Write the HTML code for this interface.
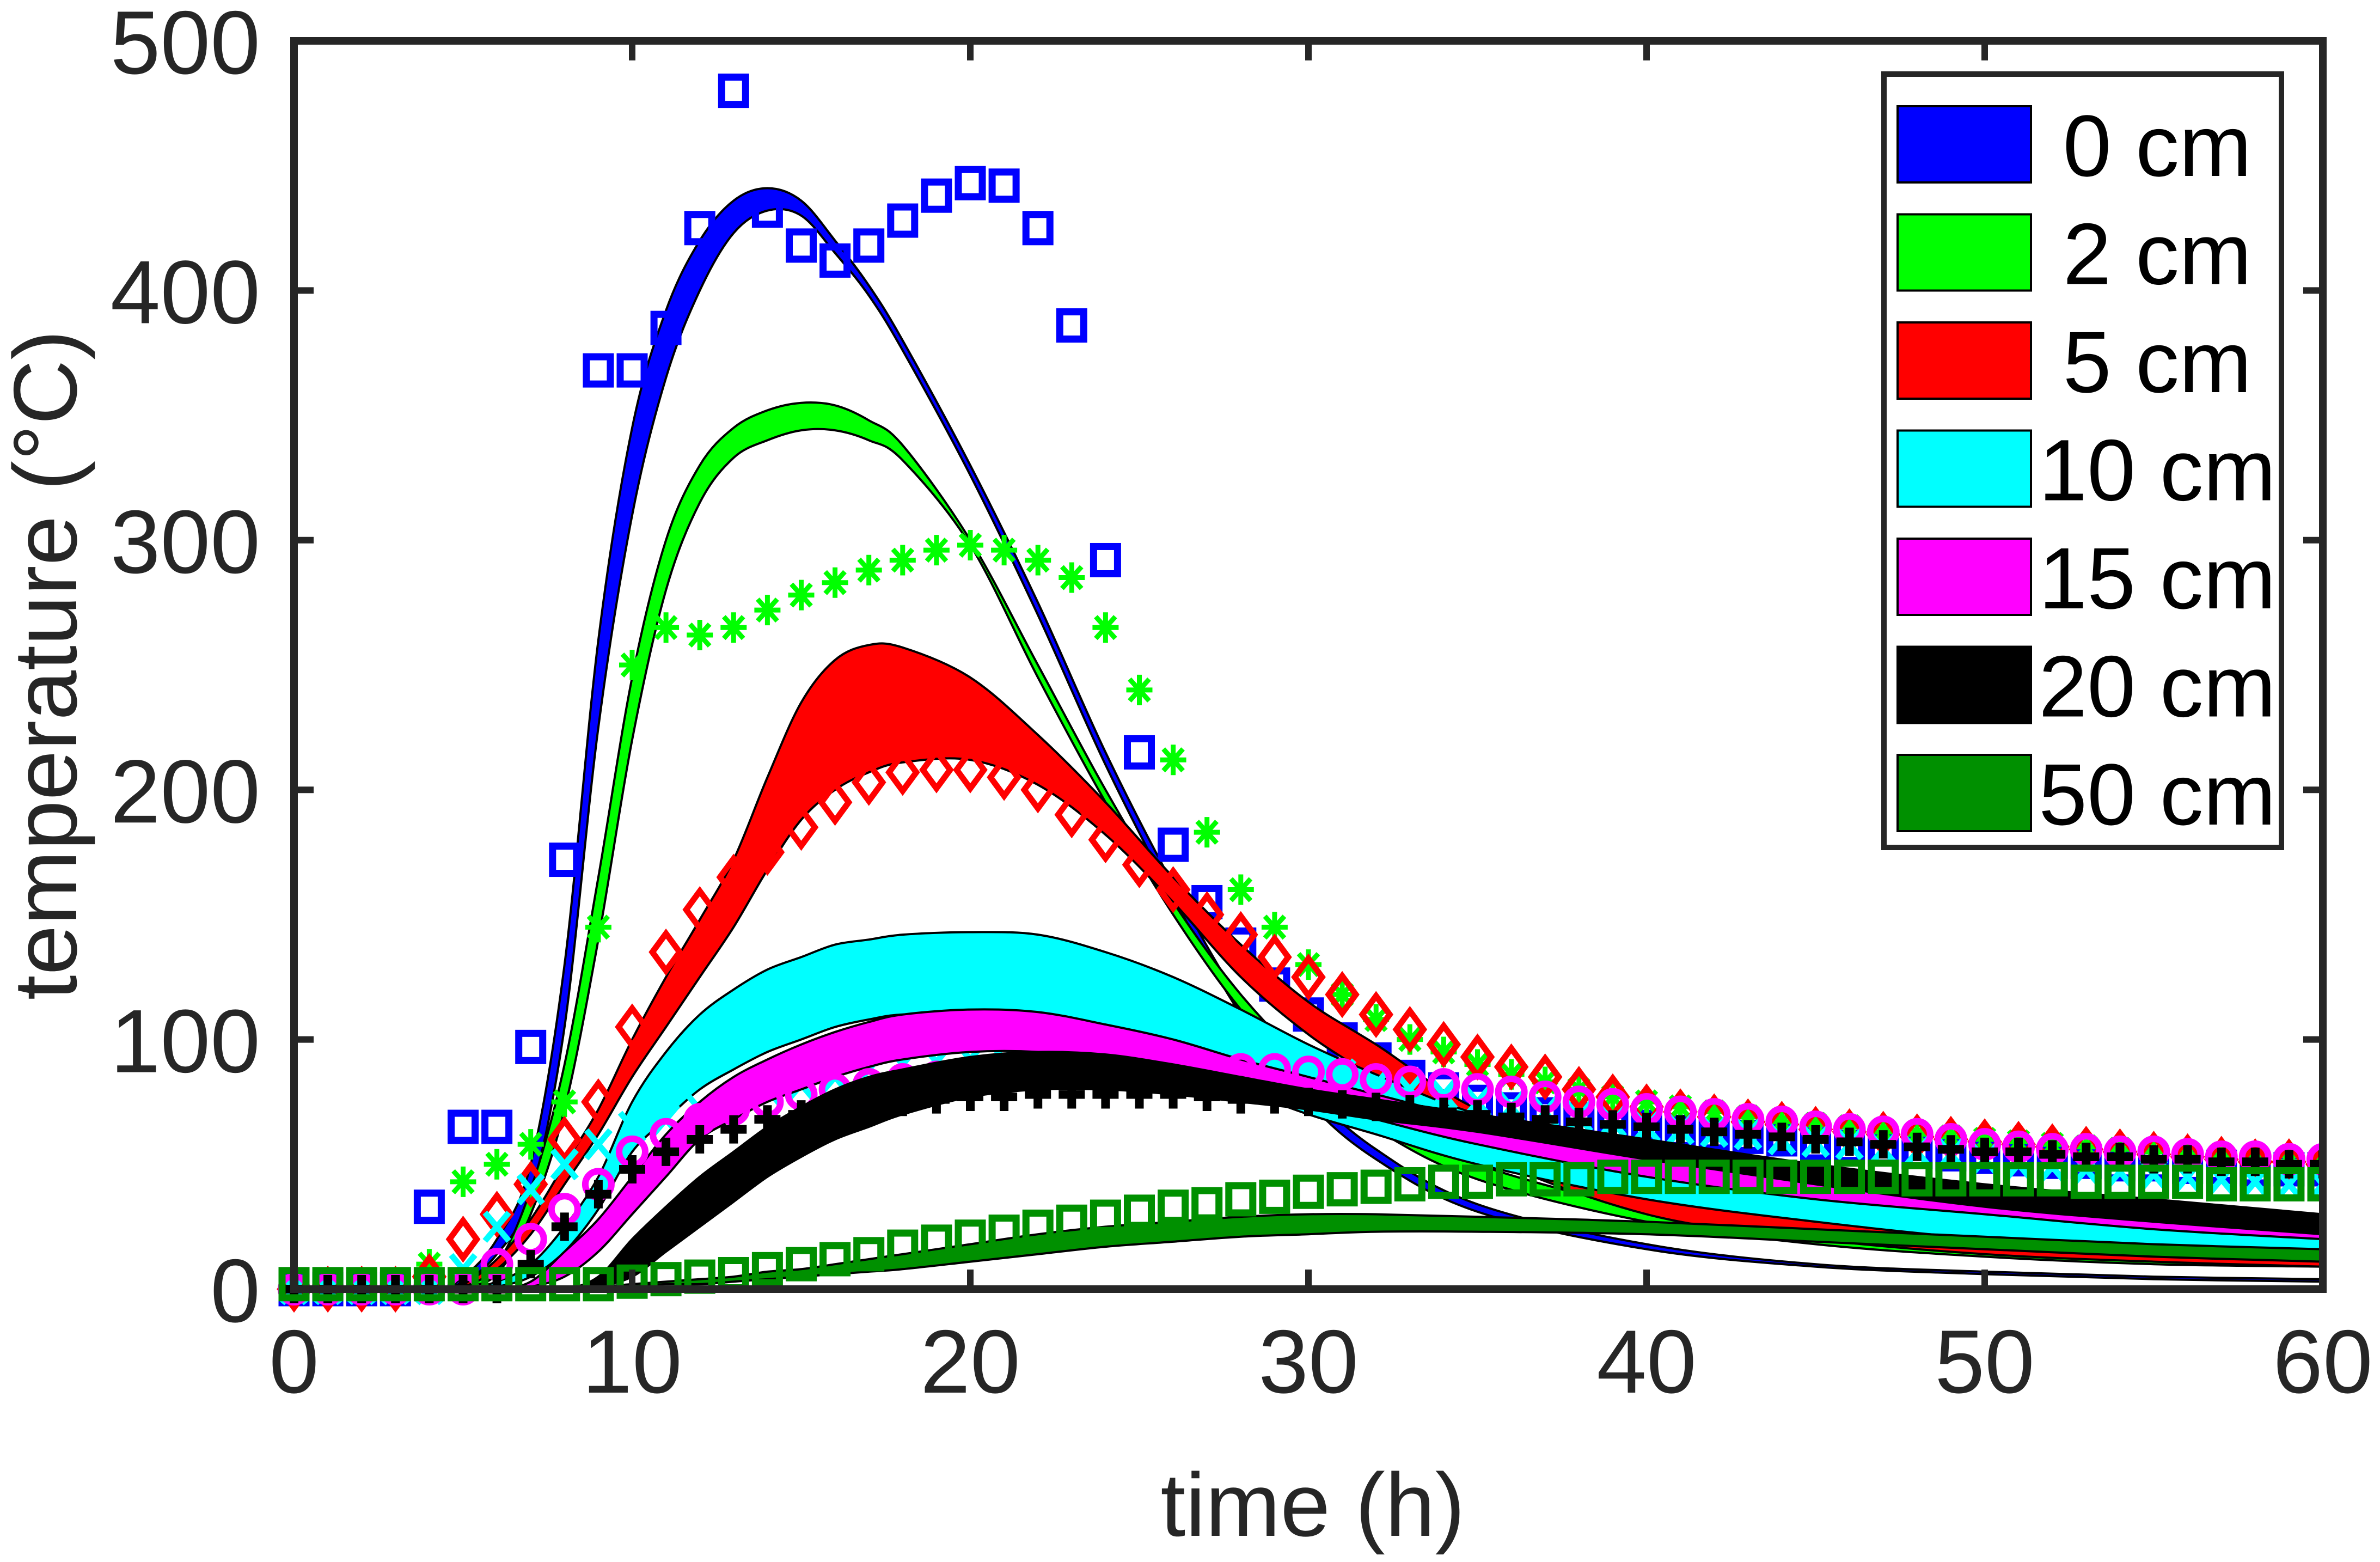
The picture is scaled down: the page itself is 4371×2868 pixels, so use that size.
<!DOCTYPE html>
<html><head><meta charset="utf-8"><style>
html,body{margin:0;padding:0;background:#fff;}
svg{display:block;font-family:"Liberation Sans",sans-serif;}
</style></head><body>
<svg id="chart" width="4371" height="2868" viewBox="0 0 4371 2868" xmlns="http://www.w3.org/2000/svg">
<rect x="0" y="0" width="4371" height="2868" fill="#fff"/>
<g id="plot"></g>
<g id="axes"></g>
<g id="legend"></g>
<text x="2411" y="2820" font-size="165" fill="#262626" text-anchor="middle">time (h)</text>
<text transform="translate(140,1221) rotate(-90)" font-size="165" fill="#262626" text-anchor="middle">temperature (°C)</text>
</svg>
<script>
const xTicks=[0,10,20,30,40,50,60];
const yTicks=[0,100,200,300,400,500];
const seriesNames=["0 cm","2 cm","5 cm","10 cm","15 cm","20 cm","50 cm"];
const bandT=[0,4,5,6,7,8,9,10,11,12,13,14,15,16,17,18,20,22,24,26,28,30,32,35,40,45,50,55,60];
const upper0=[0,0,5,20,50,130,260,345,392,420,436,441,436,420,402,380,330,275,215,162,115,80,56,34,18,10,7,5,4];
const lower0=[0,0,3,14,38,105,225,310,365,400,423,432,430,415,398,376,326,270,210,157,110,75,52,31,16,9,6,4,3];
const upper2=[0,0,2,10,40,90,165,245,300,330,345,352,355,354,348,338,300,250,200,155,118,90,70,50,32,22,16,13,11];
const lower2=[0,0,1,6,30,72,140,220,280,315,333,340,344,344,340,332,298,245,195,150,112,84,64,44,27,18,13,10,9];
const upper5=[0,0,2,12,28,50,72,100,125,148,172,205,235,252,258,257,245,222,195,165,138,115,98,72,45,32,23,18,14];
const lower5=[0,0,1,8,22,42,62,85,105,125,145,168,188,200,207,211,212,202,182,155,125,102,84,55,30,20,14,11,9];
const upper10=[0,0,0,3,10,25,45,75,95,110,120,128,133,138,140,142,143,142,135,125,112,98,86,70,52,40,32,26,22];
const lower10=[0,0,0,1,5,15,32,55,68,80,88,95,100,105,108,110,110,107,100,90,80,70,62,50,36,27,20,16,13];
const upper15=[0,0,0,0,3,15,28,45,62,75,85,92,98,103,107,110,112,111,106,100,92,85,78,68,55,45,38,32,28];
const lower15=[0,0,0,0,1,5,15,30,45,60,68,75,80,85,89,92,95,95,92,88,82,75,68,58,45,36,30,24,20];
const upper20=[0,0,0,0,0,0,5,20,33,45,55,65,73,80,85,88,93,95,94,90,85,80,76,70,60,50,42,36,30];
const lower20=[0,0,0,0,0,0,1,5,15,25,35,45,53,60,65,70,77,80,80,78,75,72,68,63,52,42,33,27,22];
const upper50=[0,0,0,0,0,1,1,2,3,4,5,7,8,10,12,14,18,22,25,27,29,30,30,29,27,24,21,18,16];
const lower50=[0,0,0,0,0,0,0,1,2,2,3,4,5,6,7,8,11,14,17,19,21,22,23,23,22,19,16,13,11];
const markT=[0,1,2,3,4,5,6,7,8,9,10,11,12,13,14,15,16,17,18,19,20,21,22,23,24,25,26,27,28,29,30,31,32,33,34,35,36,37,38,39,40,41,42,43,44,45,46,47,48,49,50,51,52,53,54,55,56,57,58,59,60];
const meas0=[0,0,0,0,33,65,65,97,172,368,368,385,425,480,432,418,412,418,428,438,443,442,425,386,292,215,178,155,138,122,110,100,92,85,80,75,72,70,68,66,65,63,62,61,60,58,57,56,55,54,53,52,51,51,50,50,49,49,48,48,48];
const meas2=[0,0,0,0,10,43,50,58,75,145,250,265,262,265,272,278,283,288,292,296,298,296,292,285,265,240,212,183,160,145,130,118,108,100,95,90,86,83,80,77,75,73,71,69,67,66,65,63,62,61,60,59,58,57,56,55,54,53,52,51,50];
const meas5=[0,0,0,0,5,20,30,42,60,75,105,135,152,165,175,185,195,203,207,208,208,205,200,190,180,170,160,150,142,133,125,118,110,104,98,93,89,85,80,77,73,71,69,67,66,64,63,62,61,60,59,58,57,56,55,54,53,52,51,51,50];
const meas10=[0,0,0,0,0,8,25,40,50,58,65,68,72,76,80,82,85,88,90,91,92,92,93,94,95,95,95,94,93,91,88,86,82,80,78,75,73,71,69,67,65,64,63,62,60,59,58,56,55,54,52,50,49,48,47,46,45,44,43,42,42];
const meas15=[0,0,0,0,0,0,10,20,32,42,55,62,68,72,75,78,80,82,84,85,86,87,88,88,88,88,88,88,88,88,87,86,84,83,82,80,79,77,75,74,72,71,70,68,67,65,64,63,62,60,58,57,56,56,55,55,54,53,53,52,52];
const meas20=[0,0,0,0,0,0,0,10,25,38,48,55,60,64,68,70,72,74,75,76,77,77,78,78,78,78,78,77,76,76,75,74,73,72,71,70,69,68,67,66,65,64,63,62,61,60,59,58,57,56,55,55,54,53,53,52,52,51,51,50,50];
const meas50=[2,2,2,2,2,2,2,2,2,2,3,4,5,6,8,10,12,14,17,19,21,23,25,27,29,31,33,34,36,37,39,40,41,42,43,43,44,44,44,45,45,45,45,45,45,45,45,45,44,44,44,44,44,43,43,43,43,42,42,42,42];

const L=540,R=4266,T=75,B=2367;
const xS=t=>L+(t-0)/(60-0)*(R-L);
const yS=v=>B-(v-0)/(500-0)*(B-T);
const NS="http://www.w3.org/2000/svg";
function mk(tag,attrs,parent){const e=document.createElementNS(NS,tag);for(const k in attrs)e.setAttribute(k,attrs[k]);parent.appendChild(e);return e;}
function smooth(pts){let d="M"+pts[0][0].toFixed(1)+","+pts[0][1].toFixed(1);
 for(let i=0;i<pts.length-1;i++){const p0=pts[Math.max(0,i-1)],p1=pts[i],p2=pts[i+1],p3=pts[Math.min(pts.length-1,i+2)];
  const c1=[p1[0]+(p2[0]-p0[0])/6,p1[1]+(p2[1]-p0[1])/6],c2=[p2[0]-(p3[0]-p1[0])/6,p2[1]-(p3[1]-p1[1])/6];
  d+="C"+c1[0].toFixed(1)+","+c1[1].toFixed(1)+" "+c2[0].toFixed(1)+","+c2[1].toFixed(1)+" "+p2[0].toFixed(1)+","+p2[1].toFixed(1);}
 return d;}
const colors=["#0000ff","#00ff00","#ff0000","#00ffff","#ff00ff","#000000","#009000"];
const uppers=[upper0,upper2,upper5,upper10,upper15,upper20,upper50];
const lowers=[lower0,lower2,lower5,lower10,lower15,lower20,lower50];
const meas=[meas0,meas2,meas5,meas10,meas15,meas20,meas50];
const shapes=["square","star","diamond","x","circle","plus","square"];
const plot=document.getElementById('plot');
const clip=mk('clipPath',{id:'pc'},plot);mk('rect',{x:L-60,y:T,width:R-L+60,height:B-T+60},clip);
const pg=mk('g',{'clip-path':'url(#pc)'},plot);
function marker(g,shape,x,y,c){
 const s=22,w=13;
 if(shape==="square")return mk('rect',{x:x-s,y:y-s-3,width:2*s,height:2*s+6,fill:'none',stroke:c,'stroke-width':w},g);
 if(shape==="diamond")return mk('path',{d:`M${x},${y-34}L${x+25},${y}L${x},${y+34}L${x-25},${y}Z`,fill:'none',stroke:c,'stroke-width':11},g);
 if(shape==="circle")return mk('circle',{cx:x,cy:y,r:24,fill:'none',stroke:c,'stroke-width':12},g);
 if(shape==="x")return mk('path',{d:`M${x-22},${y-26}L${x+22},${y+26}M${x+22},${y-26}L${x-22},${y+26}`,fill:'none',stroke:c,'stroke-width':11},g);
 if(shape==="plus")return mk('path',{d:`M${x-24},${y}L${x+24},${y}M${x},${y-26}L${x},${y+26}`,fill:'none',stroke:c,'stroke-width':16},g);
 return mk('path',{d:`M${x-24},${y}L${x+24},${y}M${x},${y-28}L${x},${y+28}M${x-18},${y-20}L${x+18},${y+20}M${x+18},${y-20}L${x-18},${y+20}`,fill:'none',stroke:c,'stroke-width':9},g);
}
for(let i=0;i<7;i++){
 const up=bandT.map((t,j)=>[xS(t),yS(uppers[i][j])]);
 const lo=bandT.map((t,j)=>[xS(t),yS(lowers[i][j])]).reverse();
 const d=smooth(up)+"L"+smooth(lo).slice(1)+"Z";
 const band=mk('path',{d:d,fill:colors[i],stroke:'#000','stroke-width':4},pg);
 
 
 const mg=mk('g',{},pg);
 
 
 markT.forEach((t,j)=>{const m=marker(mg,shapes[i],xS(t),yS(meas[i][j]),colors[i]);
  
  });
}
const ax=document.getElementById('axes');
const box=mk('rect',{x:L,y:T,width:R-L,height:B-T,fill:'none',stroke:'#262626','stroke-width':14},ax);


xTicks.forEach(t=>{const x=xS(t);
 mk('line',{x1:x,y1:B,x2:x,y2:B-36,stroke:'#262626','stroke-width':12},ax);
 mk('line',{x1:x,y1:T,x2:x,y2:T+36,stroke:'#262626','stroke-width':12},ax);
 const tx=mk('text',{x:x,y:B+190,'font-size':165,fill:'#262626','text-anchor':'middle'},ax);tx.textContent=t;
 
 });
yTicks.forEach(v=>{const y=yS(v);
 mk('line',{x1:L,y1:y,x2:L+36,y2:y,stroke:'#262626','stroke-width':12},ax);
 mk('line',{x1:R,y1:y,x2:R-36,y2:y,stroke:'#262626','stroke-width':12},ax);
 const tx=mk('text',{x:478,y:y+60,'font-size':165,fill:'#262626','text-anchor':'end'},ax);tx.textContent=v;
 
 });
const lg=document.getElementById('legend');
mk('rect',{x:3460,y:136,width:730,height:1420,fill:'#fff',stroke:'#262626','stroke-width':10},lg);
seriesNames.forEach((n,i)=>{const cy=265+i*198.5;
 const e=mk('g',{},lg);
 
 
 mk('rect',{x:3485,y:cy-70,width:245,height:140,fill:colors[i],stroke:'#000','stroke-width':4},e);
 const tx=mk('text',{x:3962,y:cy+58,'font-size':160,fill:'#000','text-anchor':'middle'},e);tx.textContent=n;});
</script>
</body></html>
